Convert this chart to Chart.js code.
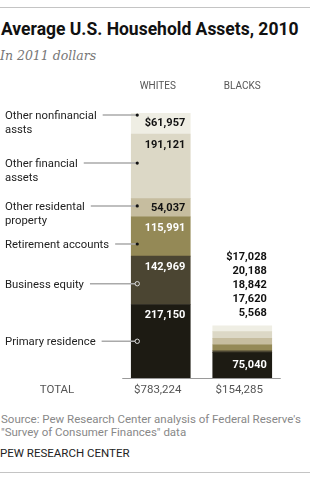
<!DOCTYPE html>
<html>
<head>
<meta charset="utf-8">
<script src="https://cdn.jsdelivr.net/npm/chart.js@4.4.1/dist/chart.umd.min.js"></script>
<style>
  html, body { margin: 0; padding: 0; background: #fff; }
  body { position: relative; width: 310px; height: 479px; overflow: hidden; font-family: Roboto, "Liberation Sans", sans-serif; }
  .rule { position: absolute; left: 0; width: 310px; height: 1px; background: #c4c4c4; }
  #title { position: absolute; left: 1px; top: 20px; margin: 0; font-size: 17.5px; line-height: 18px; font-weight: bold; color: #111; white-space: nowrap; }
  #subtitle { position: absolute; left: 0; top: 48px; font-family: "DejaVu Serif", "Liberation Serif", serif; font-style: italic; font-size: 12.5px; line-height: 16px; color: #777; white-space: nowrap; }
  #chart { position: absolute; left: 0; top: 70px; }
  #source { position: absolute; left: 1px; top: 413px; font-size: 11.5px; line-height: 12.5px; color: #888; white-space: nowrap; }
  #credit { position: absolute; left: 0; top: 447px; font-size: 11.5px; line-height: 12px; color: #222; }
</style>
</head>
<body>
<div class="rule" style="top:7px"></div>
<h1 id="title">Average U.S. Household Assets, 2010</h1>
<div id="subtitle">In 2011 dollars</div>
<canvas id="chart" width="310" height="330"></canvas>
<div id="source">Source: Pew Research Center analysis of Federal Reserve's<br>"Survey of Consumer Finances" data</div>
<div id="credit">PEW RESEARCH CENTER</div>
<div class="rule" style="top:472px"></div>

<script>
// ── 資料 ────────────────────────────────────────────────────────────────────
const CATEGORIES = ['WHITES', 'BLACKS'];
const TOTAL_LABEL = 'TOTAL';
const TOTALS = ['$783,224', '$154,285'];

// stacked bottom -> top
const COMPONENTS = [
  ['Primary residence'],
  ['Business equity'],
  ['Retirement accounts'],
  ['Other residental', 'property'],
  ['Other financial', 'assets'],
  ['Other nonfinancial', 'assts'],
];
const WHITES = [217150, 142969, 115991, 54037, 191121, 61957];
const BLACKS = [75040, 5568, 17620, 18842, 20188, 17028];

// ── 樣式 ────────────────────────────────────────────────────────────────────
const COLORS = ['#1d1b13', '#4b4532', '#948956', '#c6bd9f', '#dcd8c6', '#efeee4'];
const DARK = [true, true, true, false, false, false];
const LEADER_POS = [0.5, 0.57, 0.69, 0.4, 0.45, 0.1];   // where the leader dot sits in each segment
const FONT = 'Roboto, "Liberation Sans", sans-serif';

function fmt(v, withDollar) {
  return (withDollar ? '$' : '') + v.toLocaleString('en-US');
}

const annotate = {
  id: 'annotate',
  afterDatasetsDraw(chart) {
    const ctx = chart.ctx;
    const n = COMPONENTS.length;
    const w = chart.getDatasetMeta(0).data[0];
    const b = chart.getDatasetMeta(0).data[1];
    const base = w.base;
    ctx.save();

    // baseline
    ctx.strokeStyle = '#9a9a9a';
    ctx.lineWidth = 1;
    ctx.beginPath();
    ctx.moveTo(w.x - w.width / 2 - 9, base + 0.5);
    ctx.lineTo(b.x + b.width / 2 + 9, base + 0.5);
    ctx.stroke();

    // column headers
    ctx.fillStyle = '#555';
    ctx.font = '10px ' + FONT;
    ctx.textAlign = 'center';
    ctx.textBaseline = 'middle';
    CATEGORIES.forEach(function (c, j) {
      const el = chart.getDatasetMeta(0).data[j];
      ctx.fillText(c, el.x - (j === 0 ? 3 : 0), 16.5);
    });

    // totals row
    ctx.font = '11.5px ' + FONT;
    ctx.fillText(TOTAL_LABEL, 57, base + 12.5);
    TOTALS.forEach(function (t, j) {
      const el = chart.getDatasetMeta(0).data[j];
      ctx.fillText(t, el.x - 3, base + 12.5);
    });

    // whites values inside segments
    ctx.font = 'bold 11px ' + FONT;
    ctx.textAlign = 'right';
    for (let i = 0; i < n; i++) {
      const el = chart.getDatasetMeta(i).data[0];
      const h = el.base - el.y;
      const y = h < 30 ? el.y + h / 2 : el.y + 11;
      ctx.fillStyle = DARK[i] ? '#fff' : '#111';
      ctx.fillText(fmt(WHITES[i], i === n - 1), el.x + el.width / 2 - 5, y);
    }

    // blacks: primary inside, rest stacked above the bar
    const bp = chart.getDatasetMeta(0).data[1];
    ctx.fillStyle = '#fff';
    ctx.fillText(fmt(BLACKS[0], false), bp.x + bp.width / 2 - 5, (bp.y + bp.base) / 2);
    const btop = chart.getDatasetMeta(n - 1).data[1].y;
    ctx.fillStyle = '#111';
    for (let i = 1; i < n; i++) {
      ctx.fillText(fmt(BLACKS[i], i === n - 1), bp.x + bp.width / 2 - 5, btop - 13 - (i - 1) * 14);
    }

    // left labels with leader lines
    ctx.textAlign = 'left';
    ctx.font = '11.3px ' + FONT;
    for (let i = 0; i < n; i++) {
      const el = chart.getDatasetMeta(i).data[0];
      const dotX = el.x - el.width / 2 + 6;
      const dotY = el.y + (el.base - el.y) * LEADER_POS[i];
      const lines = COMPONENTS[i];
      ctx.fillStyle = '#222';
      lines.forEach(function (t, k) {
        ctx.fillText(t, 5, dotY + 1 + k * 14);
      });
      const endX = 5 + ctx.measureText(lines[0]).width + 6;
      ctx.strokeStyle = '#aaa';
      ctx.lineWidth = 1.5;
      ctx.beginPath();
      ctx.moveTo(endX, dotY);
      ctx.lineTo(dotX, dotY);
      ctx.stroke();
      ctx.beginPath();
      if (i < 2) {
        ctx.arc(dotX, dotY, 2.2, 0, Math.PI * 2);
        ctx.fillStyle = COLORS[i];
        ctx.fill();
        ctx.strokeStyle = '#ddd';
        ctx.lineWidth = 1;
        ctx.stroke();
      } else {
        ctx.arc(dotX, dotY, 1.6, 0, Math.PI * 2);
        ctx.fillStyle = '#111';
        ctx.fill();
      }
    }
    ctx.restore();
  },
};

new Chart(document.getElementById('chart').getContext('2d'), {
  type: 'bar',
  data: {
    labels: CATEGORIES,
    datasets: COMPONENTS.map(function (c, i) {
      return {
        label: c.join(' '),
        data: [WHITES[i], BLACKS[i]],
        backgroundColor: COLORS[i],
        borderWidth: 0,
        barThickness: 59,
      };
    }),
  },
  options: {
    responsive: false,
    animation: false,
    layout: { padding: { left: 120, right: 27, top: 43, bottom: 22 } },
    plugins: { legend: { display: false }, tooltip: { enabled: false } },
    scales: {
      x: { display: false, stacked: true },
      y: { display: false, stacked: true, min: 0, max: WHITES.reduce(function (a, v) { return a + v; }, 0) },
    },
  },
  plugins: [annotate],
});
</script>
</body>
</html>
